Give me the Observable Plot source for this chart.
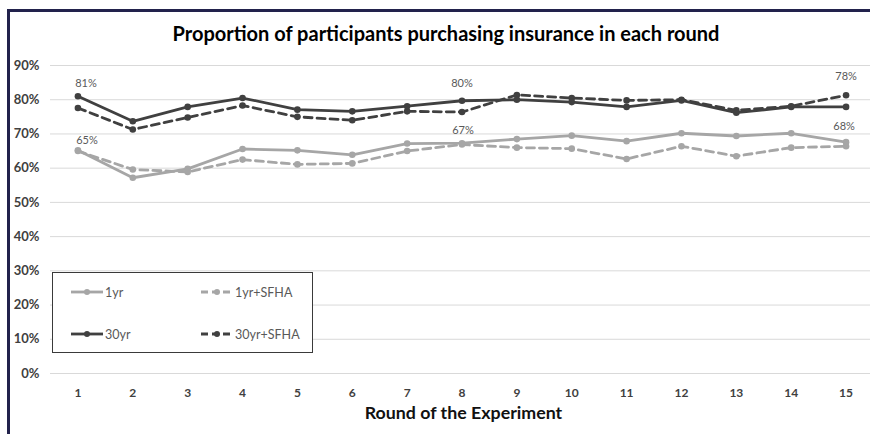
<!DOCTYPE html>
<html>
<head>
<meta charset="utf-8">
<script src="https://cdn.jsdelivr.net/npm/d3@7"></script>
<script src="https://cdn.jsdelivr.net/npm/@observablehq/plot@0.6"></script>
<style>
  html, body { margin: 0; padding: 0; background: #fff; }
  #wrap { position: relative; width: 870px; height: 434px; overflow: hidden; background: #fff; font-family: Lato, "Open Sans", sans-serif; }
  #frame { position: absolute; left: 7px; top: 9px; right: -5px; bottom: -5px; border-top: 3px solid #22224c; border-left: 3px solid #22224c; }
  #title { position: absolute; left: 446px; top: 21px; transform: translateX(-50%); white-space: nowrap; font-weight: bold; font-size: 20px; color: #000; }
  #chart { position: absolute; left: 0; top: 50px; }
  #chart g[aria-label^="x-axis"] text { font-size: 12px; }
  #legend { position: absolute; left: 52px; top: 272px; width: 261px; height: 81px; box-sizing: border-box; border: 1px solid #3a3a3a; background: #fff; }
  .item { position: absolute; display: flex; align-items: center; font-size: 12.5px; color: #595959; }
  .item svg { display: block; margin-right: 2px; }
</style>
</head>
<body>
<div id="wrap">
  <div id="frame"></div>
  <div id="title">Proportion of participants purchasing insurance in each round</div>
  <div id="chart"></div>
  <div id="legend"></div>
</div>
<script>
// ---- data ----
const rounds = [1, 2, 3, 4, 5, 6, 7, 8, 9, 10, 11, 12, 13, 14, 15];
const seriesNames = ["1yr", "1yr+SFHA", "30yr", "30yr+SFHA"];
const values1yr      = [65.2, 57.2, 59.8, 65.6, 65.2, 63.9, 67.2, 67.3, 68.5, 69.5, 67.9, 70.2, 69.4, 70.2, 67.6];
const values1yrSFHA  = [65.0, 59.6, 58.9, 62.5, 61.1, 61.4, 65.0, 66.9, 66.0, 65.7, 62.7, 66.4, 63.5, 66.0, 66.4];
const values30yr     = [81.0, 73.7, 77.9, 80.5, 77.1, 76.6, 78.1, 79.7, 80.0, 79.3, 77.9, 79.8, 76.2, 77.9, 77.9];
const values30yrSFHA = [77.6, 71.3, 74.8, 78.3, 75.0, 74.0, 76.6, 76.4, 81.4, 80.5, 79.8, 80.0, 76.9, 78.1, 81.3];
const yTicks = [0, 10, 20, 30, 40, 50, 60, 70, 80, 90];
const xLabel = "Round of the Experiment";

// ---- styles ----
const seriesValues = [values1yr, values1yrSFHA, values30yr, values30yrSFHA];
const seriesColor = ["#a6a6a6", "#a6a6a6", "#404040", "#404040"];
const seriesDash = [null, "8,5", null, "8,5"];

const rows = seriesNames.map((name, i) => rounds.map((r, j) => ({series: name, round: r, value: seriesValues[i][j]})));
const pt = (si, r) => rows[si][r - 1];

const marks = [
  Plot.ruleY(yTicks, {stroke: "#d9d9d9", strokeWidth: 1})
];
for (const i of [1, 0, 3, 2]) {
  const opts = {x: "round", y: "value", stroke: seriesColor[i], strokeWidth: 2.8};
  if (seriesDash[i]) opts.strokeDasharray = seriesDash[i];
  marks.push(Plot.line(rows[i], opts));
  marks.push(Plot.dot(rows[i], {x: "round", y: "value", fill: seriesColor[i], r: 3.3}));
}
const labelOpts = {x: "round", y: "value", text: d => Math.round(d.value) + "%", fill: "#595959", fontSize: 11, fontWeight: "normal"};
marks.push(
  Plot.text([pt(2, 1)],  {...labelOpts, dx: 8,  dy: -13}),
  Plot.text([pt(0, 1)],  {...labelOpts, dx: 9,  dy: -10}),
  Plot.text([pt(2, 8)],  {...labelOpts, dx: 0,  dy: -17.5}),
  Plot.text([pt(0, 8)],  {...labelOpts, dx: 1,  dy: -13}),
  Plot.text([pt(2, 15)], {...labelOpts, dx: 0,  dy: -30}),
  Plot.text([pt(0, 15)], {...labelOpts, dx: -2, dy: -16}),
  Plot.text([xLabel], {frameAnchor: "bottom", dx: 3, dy: 45, fontSize: 17.8, fontWeight: "bold", fill: "#111"})
);

const chart = Plot.plot({
  width: 870,
  height: 384,
  marginLeft: 50,
  marginRight: 0,
  marginTop: 15,
  marginBottom: 61,
  style: {background: "none", fontFamily: "Lato, 'Open Sans', sans-serif", fontSize: "13px", fontWeight: "bold", color: "#404040", overflow: "visible"},
  x: {domain: [0.5, 15.5], range: [50, 873], ticks: rounds, tickSize: 0, tickPadding: 15, tickFormat: d => String(d), label: null},
  y: {domain: [0, 90], ticks: yTicks, tickSize: 0, tickPadding: 11, tickFormat: d => d + "%", label: null},
  marks
});
document.getElementById("chart").appendChild(chart);

// ---- legend ----
const legend = document.getElementById("legend");
const legendPos = [[18, 20], [148, 20], [18, 62], [148, 62]];
seriesNames.forEach((name, i) => {
  const item = document.createElement("div");
  item.className = "item";
  item.style.left = legendPos[i][0] + "px";
  item.style.top = (legendPos[i][1] - 9) + "px";
  const ns = "http://www.w3.org/2000/svg";
  const svg = document.createElementNS(ns, "svg");
  svg.setAttribute("width", 32); svg.setAttribute("height", 16);
  const line = document.createElementNS(ns, "line");
  line.setAttribute("x1", 0); line.setAttribute("x2", 32); line.setAttribute("y1", 8); line.setAttribute("y2", 8);
  line.setAttribute("stroke", seriesColor[i]); line.setAttribute("stroke-width", 2.8);
  if (seriesDash[i]) line.setAttribute("stroke-dasharray", "7,4");
  const c = document.createElementNS(ns, "circle");
  c.setAttribute("cx", 16); c.setAttribute("cy", 8); c.setAttribute("r", 3); c.setAttribute("fill", seriesColor[i]);
  svg.appendChild(line); svg.appendChild(c);
  const t = document.createElement("span");
  t.textContent = name;
  item.appendChild(svg); item.appendChild(t);
  legend.appendChild(item);
});
</script>
</body>
</html>
